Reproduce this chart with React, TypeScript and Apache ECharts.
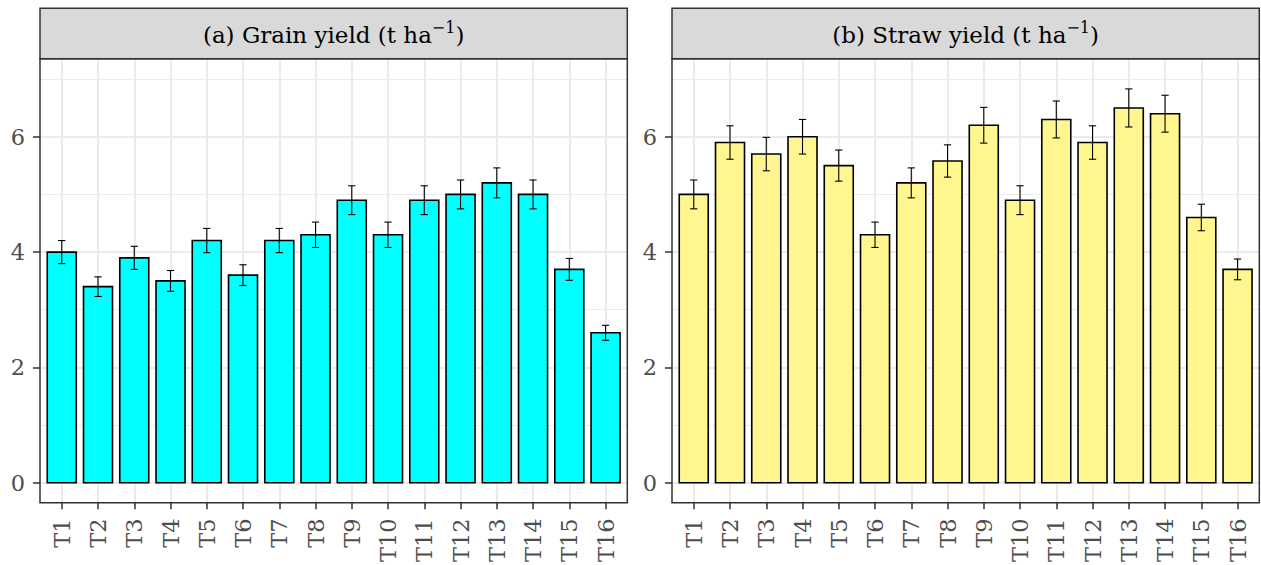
import React, { useEffect, useRef } from "react";
import * as echarts from "echarts";

const categories = ["T1","T2","T3","T4","T5","T6","T7","T8","T9","T10","T11","T12","T13","T14","T15","T16"];
const grainYield = [4.0, 3.4, 3.9, 3.5, 4.2, 3.6, 4.2, 4.3, 4.9, 4.3, 4.9, 5.0, 5.2, 5.0, 3.7, 2.6];
const grainSe = [0.2, 0.17, 0.2, 0.18, 0.21, 0.18, 0.21, 0.22, 0.25, 0.22, 0.25, 0.25, 0.26, 0.25, 0.19, 0.13];
const strawYield = [5.0, 5.9, 5.7, 6.0, 5.5, 4.3, 5.2, 5.58, 6.2, 4.9, 6.3, 5.9, 6.5, 6.4, 4.6, 3.7];
const strawSe = [0.25, 0.29, 0.29, 0.3, 0.27, 0.22, 0.26, 0.28, 0.31, 0.25, 0.32, 0.29, 0.33, 0.32, 0.23, 0.18];
const yTicks = [0, 2, 4, 6];
const yMinor = [1, 3, 5, 7];
const panelTitles = ["(a) Grain yield (t ha", "(b) Straw yield (t ha"];

const FONT = "DejaVu Serif";
const W = 1261;
const H = 565;
const PANEL_W = 587.3;
const PANEL_TOP = 58.7;
const PANEL_BOTTOM = 502.7;
const STRIP_TOP = 8.3;
const PANEL_LEFTS = [40, 672];
const Y_MIN = -0.341;
const Y_MAX = 7.354;

export default function App() {
  const ref = useRef<HTMLDivElement>(null);
  useEffect(() => {
    if (!ref.current) return;
    const chart = echarts.init(ref.current, undefined, { renderer: "svg" });
    const panels = [
      { values: grainYield, se: grainSe, color: "#00FFFF" },
      { values: strawYield, se: strawSe, color: "#FFF68F" },
    ];
    const xIdx = categories.map((_, i) => i + 1);

    const grids = PANEL_LEFTS.map((left) => ({
      left,
      top: PANEL_TOP,
      width: PANEL_W,
      height: PANEL_BOTTOM - PANEL_TOP,
      show: false,
    }));

    const xAxes = PANEL_LEFTS.map((_, g) => ({
      type: "value",
      gridIndex: g,
      min: 0.4,
      max: 16.6,
      splitLine: { show: false },
      axisLine: { show: false, onZero: false },
      axisTick: {
        show: true,
        length: 7,
        customValues: xIdx,
        lineStyle: { color: "#333333", width: 1.5 },
      },
      axisLabel: {
        customValues: xIdx,
        rotate: 90,
        margin: 16,
        fontFamily: FONT,
        fontSize: 22.5,
        color: "#4d4d4d",
        formatter: (v: number) => categories[Math.round(v) - 1] ?? "",
      },
    }));

    const yAxes = PANEL_LEFTS.map((_, g) => ({
      type: "value",
      gridIndex: g,
      min: Y_MIN,
      max: Y_MAX,
      splitLine: { show: false },
      axisLine: { show: false, onZero: false },
      axisTick: {
        show: true,
        length: 7,
        customValues: yTicks,
        lineStyle: { color: "#333333", width: 1.5 },
      },
      axisLabel: {
        customValues: yTicks,
        margin: 15,
        fontFamily: FONT,
        fontSize: 22.5,
        color: "#4d4d4d",
        formatter: (v: number) => String(v),
      },
    }));

    const gridLines = [
      ...yTicks.map((v) => ({ yAxis: v, lineStyle: { color: "#ebebeb", width: 2, type: "solid" } })),
      ...yMinor.map((v) => ({ yAxis: v, lineStyle: { color: "#ebebeb", width: 1, type: "solid" } })),
      ...xIdx.map((v) => ({ xAxis: v, lineStyle: { color: "#ebebeb", width: 2, type: "solid" } })),
    ];

    const series = panels.map((p, g) => ({
      type: "custom",
      xAxisIndex: g,
      yAxisIndex: g,
      z: 3,
      data: p.values.map((v, i) => [i + 1, v, p.se[i]]),
      encode: { x: 0, y: 1 },
      renderItem: (_params: any, api: any) => {
        const x = api.value(0);
        const v = api.value(1);
        const se = api.value(2);
        const base = api.coord([x, 0]);
        const top = api.coord([x, v]);
        const hi = api.coord([x, v + se]);
        const lo = api.coord([x, v - se]);
        const bw = api.size([0.8, 0])[0];
        const cw = api.size([0.2, 0])[0];
        return {
          type: "group",
          children: [
            {
              type: "rect",
              shape: { x: base[0] - bw / 2, y: top[1], width: bw, height: base[1] - top[1] },
              style: { fill: p.color, stroke: "#000000", lineWidth: 1.6 },
            },
            {
              type: "line",
              shape: { x1: hi[0], y1: hi[1], x2: lo[0], y2: lo[1] },
              style: { stroke: "#000000", lineWidth: 1.1 },
            },
            {
              type: "line",
              shape: { x1: hi[0] - cw / 2, y1: hi[1], x2: hi[0] + cw / 2, y2: hi[1] },
              style: { stroke: "#000000", lineWidth: 1.1 },
            },
            {
              type: "line",
              shape: { x1: lo[0] - cw / 2, y1: lo[1], x2: lo[0] + cw / 2, y2: lo[1] },
              style: { stroke: "#000000", lineWidth: 1.1 },
            },
          ],
        };
      },
      markLine: {
        silent: true,
        z: 1,
        symbol: ["none", "none"],
        label: { show: false },
        animation: false,
        data: gridLines,
      },
    }));

    const graphics: any[] = [];
    PANEL_LEFTS.forEach((left, g) => {
      graphics.push({
        type: "rect",
        z: 10,
        shape: { x: left, y: STRIP_TOP, width: PANEL_W, height: PANEL_TOP - STRIP_TOP },
        style: { fill: "#d9d9d9", stroke: "#333333", lineWidth: 1.5 },
      });
      graphics.push({
        type: "rect",
        z: 10,
        shape: { x: left, y: PANEL_TOP, width: PANEL_W, height: PANEL_BOTTOM - PANEL_TOP },
        style: { fill: "none", stroke: "#333333", lineWidth: 1.5 },
      });
      graphics.push({
        type: "text",
        z: 11,
        x: left + PANEL_W / 2,
        y: (STRIP_TOP + PANEL_TOP) / 2 + 1,
        style: {
          text: `{m|${panelTitles[g]}}{s|−1}{m|)}`,
          align: "center",
          verticalAlign: "middle",
          rich: {
            m: { fontFamily: FONT, fontSize: 23, color: "#1a1a1a", lineHeight: 30 },
            s: { fontFamily: FONT, fontSize: 16, color: "#1a1a1a", lineHeight: 20, verticalAlign: "top" },
          },
        },
      });
    });

    chart.setOption({
      animation: false,
      backgroundColor: "#ffffff",
      grid: grids,
      xAxis: xAxes,
      yAxis: yAxes,
      series,
      graphic: { elements: graphics },
    });
    return () => chart.dispose();
  }, []);
  return <div ref={ref} style={{ position: "fixed", left: 0, top: 0, width: W, height: H }} />;
}
